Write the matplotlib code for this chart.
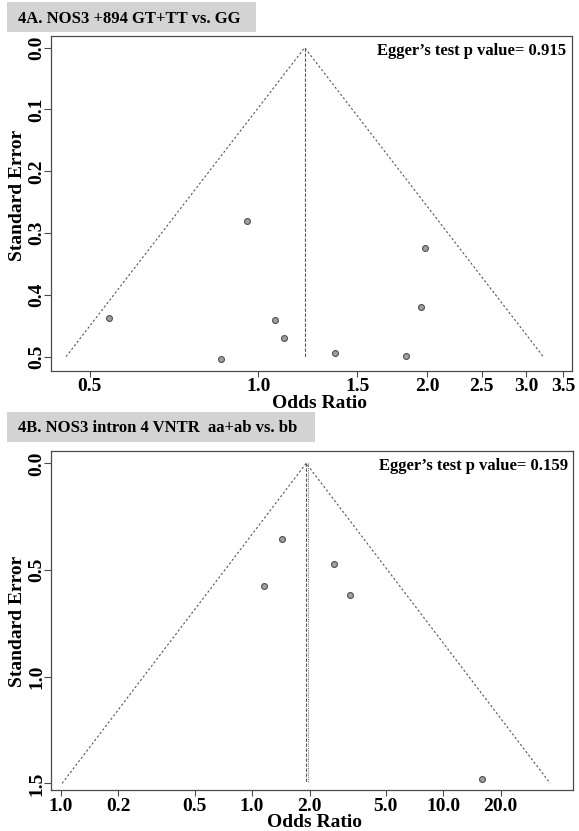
import numpy as np
import matplotlib
matplotlib.use("Agg")
import matplotlib.pyplot as plt
from matplotlib.patches import Rectangle

plt.rcParams['font.family'] = ['Liberation Serif', 'DejaVu Serif']
plt.rcParams['font.weight'] = 'bold'

# ---- Panel A data ----
titleA = "4A. NOS3 +894 GT+TT vs. GG"
orA = [0.954, 0.542, 1.070, 1.110, 0.859, 1.369, 1.833, 1.947, 1.982]
seA = [0.280, 0.437, 0.440, 0.469, 0.503, 0.494, 0.499, 0.419, 0.324]
pooledA = 1.209
eggerA = "Egger\u2019s test p value= 0.915"
xticksA = [0.5, 1.0, 1.5, 2.0, 2.5, 3.0, 3.5]
xticklabelsA = ["0.5", "1.0", "1.5", "2.0", "2.5", "3.0", "3.5"]
yticksA = [0.0, 0.1, 0.2, 0.3, 0.4, 0.5]
yticklabelsA = ["0.0", "0.1", "0.2", "0.3", "0.4", "0.5"]

# ---- Panel B data ----
titleB = "4B. NOS3 intron 4 VNTR  aa+ab vs. bb"
orB = [1.44, 1.16, 2.70, 3.26, 15.9]
seB = [0.357, 0.575, 0.474, 0.619, 1.478]
pooledB_fixed = 1.92
pooledB_random = 1.97
eggerB = "Egger\u2019s test p value= 0.159"
xticksB = [0.1, 0.2, 0.5, 1.0, 2.0, 5.0, 10.0, 20.0]
xticklabelsB = ["1.0", "0.2", "0.5", "1.0", "2.0", "5.0", "10.0", "20.0"]
yticksB = [0.0, 0.5, 1.0, 1.5]
yticklabelsB = ["0.0", "0.5", "1.0", "1.5"]

W, H = 579, 831
fig = plt.figure(figsize=(W / 100, H / 100), dpi=100)


def frac_box(left, top, right, bottom):
    return [left / W, 1 - bottom / H, (right - left) / W, (bottom - top) / H]


axA = fig.add_axes(frac_box(50.7, 35.7, 571.7, 370.7))
axB = fig.add_axes(frac_box(50.6, 451.0, 573.0, 790.0))

spine_col = "#4a4a4a"
line_col = "#555555"


def funnel(ax, ors, ses, center, semax, vlines, xlim, ylim, xt, xtl, yt, ytl,
           egger, ylab_y, xlab_x):
    ax.set_xscale('log')
    c = np.log(center)
    se_line = np.array([semax, 0.0, semax])
    x_line = np.exp(np.array([c - 1.96 * semax, c, c + 1.96 * semax]))
    ax.plot(x_line, se_line, color=line_col, lw=0.8, ls=(0, (2, 2)))
    for (v, ls, col) in vlines:
        ax.plot([v, v], [0.0, semax], color=col, lw=0.8, ls=ls)
    ax.scatter(ors, ses, s=18, facecolor="#a0a0a0", edgecolor="#505050",
               linewidth=0.8, zorder=3)
    ax.set_xlim(*xlim)
    ax.set_ylim(*ylim)
    ax.xaxis.set_minor_locator(matplotlib.ticker.NullLocator())
    ax.set_xticks(xt)
    ax.set_xticklabels(xtl)
    ax.set_yticks(yt)
    ax.set_yticklabels(ytl, rotation=90, va='center')
    ax.tick_params(axis='x', length=4, width=0.8, color=spine_col, pad=1.5,
                   labelsize=14)
    ax.tick_params(axis='y', length=5, width=0.8, color=spine_col, pad=-1.2,
                   labelsize=14)
    for lab in ax.get_xticklabels() + ax.get_yticklabels():
        lab.set_fontweight('bold')
    for sp in ax.spines.values():
        sp.set_color(spine_col)
        sp.set_linewidth(0.9)
    ax.set_ylabel("Standard Error", fontsize=14, fontweight='bold',
                  va='center')
    ax.yaxis.set_label_coords(-0.064, ylab_y)
    ax.set_xlabel("Odds Ratio", fontsize=14, fontweight='bold', va='center')
    ax.xaxis.set_label_coords(xlab_x, -0.097)
    ax.text(0.99, 0.955, egger, transform=ax.transAxes, ha='right',
            va='center', fontsize=12, fontweight='bold')


funnel(axA, orA, seA, pooledA, 0.5,
       [(pooledA, (0, (3, 1.5)), "#555555")],
       (0.426, 3.62), (0.5227, -0.0194), xticksA, xticklabelsA,
       yticksA, yticklabelsA, eggerA, 0.522, 0.515)

funnel(axB, orB, seB, pooledB_fixed, 1.5,
       [(pooledB_fixed, (0, (3, 1.5)), "#555555"),
        (pooledB_random, (0, (1, 1)), "#777777")],
       (0.0883, 47.8), (1.5313, -0.0578), xticksB, xticklabelsB,
       yticksB, yticklabelsB, eggerB, 0.496, 0.505)

# Title boxes
box_col = "#d3d3d3"
for (l, t, r, b, txt, ty) in [(6.7, 2.3, 256.2, 32.3, titleA, 19.3),
                               (6.7, 411.7, 315.3, 442.3, titleB, 428.3)]:
    fig.patches.append(Rectangle((l / W, 1 - b / H), (r - l) / W, (b - t) / H,
                                 transform=fig.transFigure, facecolor=box_col,
                                 edgecolor='none', zorder=0))
    fig.text(17.7 / W, 1 - ty / H, txt, ha='left', va='center', fontsize=12,
             fontweight='bold')

fig.savefig("out.png", dpi=100, facecolor='white')
